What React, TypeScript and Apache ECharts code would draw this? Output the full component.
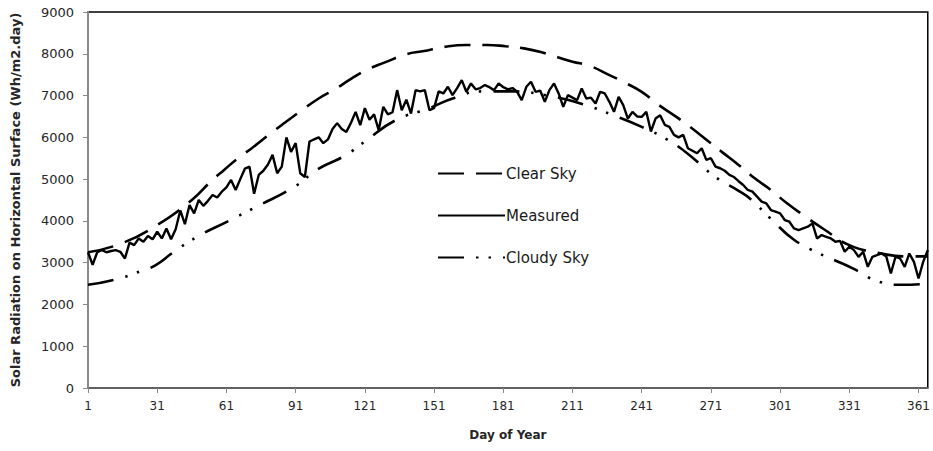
import React, { useEffect, useRef } from "react";
import * as echarts from "echarts";

// Tick labels of the x axis are generated from min=1, interval=30 (1, 31, ... 361)
const xTickLabels = ["1", "31", "61", "91", "121", "151", "181", "211", "241", "271", "301", "331", "361"];
const yTickLabels = ["0", "1000", "2000", "3000", "4000", "5000", "6000", "7000", "8000", "9000"];

const seriesNames = ["Clear Sky", "Measured", "Cloudy Sky"];

// Clear sky (read at selected days)
const clearDays = [1, 15, 31, 46, 54, 60, 66, 72, 81, 87, 95, 101, 108, 115, 122, 130, 139, 146, 156, 165, 174, 182, 190, 198, 211, 218, 227, 234, 241, 248, 256, 262, 270, 276, 283, 290, 297, 304, 311, 320, 331, 345, 355, 365];
const clearValues = [3250, 3450, 3900, 4500, 4930, 5220, 5500, 5740, 6130, 6380, 6700, 6930, 7150, 7400, 7620, 7800, 7990, 8060, 8170, 8210, 8210, 8180, 8130, 8030, 7810, 7720, 7490, 7300, 7090, 6790, 6490, 6250, 5900, 5640, 5340, 5020, 4740, 4420, 4140, 3800, 3420, 3220, 3150, 3150];

// Cloudy sky (read at selected days)
const cloudyDays = [1, 13, 24, 30, 38, 48, 62, 74, 90, 101, 112, 121, 134, 149, 160, 172, 185, 200, 215, 230, 241, 251, 260, 273, 283, 288, 297, 307, 318, 328, 334, 343, 354, 365];
const cloudyValues = [2470, 2600, 2800, 2930, 3250, 3610, 4000, 4340, 4800, 5250, 5550, 5900, 6400, 6700, 6950, 7100, 7100, 7000, 6800, 6500, 6250, 5980, 5650, 5050, 4720, 4530, 4050, 3550, 3220, 2980, 2820, 2560, 2470, 2500];

// Measured, read every second day (days 1, 3, 5, ... 365)
const measuredValues = [
  3250, 2950, 3250, 3300, 3250, 3280, 3300, 3260, 3100, 3480,
  3420, 3580, 3500, 3640, 3560, 3740, 3580, 3820, 3560, 3800,
  4250, 3920, 4380, 4180, 4500, 4360, 4480, 4620, 4560, 4700,
  4800, 4980, 4740, 5000, 5250, 5300, 4650, 5100, 5200, 5350,
  5580, 5140, 5300, 6000, 5650, 5860, 5140, 5050, 5900, 5950,
  6000, 5860, 5950, 6200, 6340, 6200, 6130, 6350, 6610, 6290,
  6700, 6420, 6550, 6170, 6730, 6550, 6600, 7130, 6650, 6900,
  6570, 7130, 7100, 7130, 6650, 6700, 7100, 7050, 7210, 7010,
  7180, 7370, 7090, 7290, 7150, 7180, 7250, 7200, 7130, 7290,
  7200, 7150, 7180, 7090, 6890, 7210, 7330, 7090, 7120, 6850,
  7130, 7290, 7050, 6730, 7010, 6950, 6890, 7170, 6930, 6950,
  6810, 7090, 7050, 6850, 6610, 6970, 6770, 6450, 6610, 6500,
  6490, 6610, 6140, 6450, 6530, 6300, 6250, 6060, 6000, 6060,
  5740, 5680, 5620, 5740, 5460, 5500, 5300, 5260, 5200, 5100,
  5050, 4950, 4860, 4740, 4700, 4580, 4460, 4420, 4260, 4220,
  4180, 4020, 3980, 3820, 3780, 3820, 3860, 3940, 3580, 3660,
  3620, 3580, 3500, 3520, 3260, 3380, 3300, 3140, 3260, 2900,
  3140, 3180, 3220, 3150, 2740, 3140, 3100, 2900, 3220, 3020,
  2620, 3020, 3300,
];

const FONT = "'DejaVu Sans', 'Liberation Sans', sans-serif";

export default function App() {
  const ref = useRef<HTMLDivElement>(null);
  useEffect(() => {
    document.body.style.margin = "0";
    if (!ref.current) return;
    const chart = echarts.init(ref.current, undefined, { renderer: "svg" });
    const clearData = clearDays.map((d, i) => [d, clearValues[i]]);
    const cloudyData = cloudyDays.map((d, i) => [d, cloudyValues[i]]);
    const measuredData = measuredValues.map((v, i) => [1 + 2 * i, v]);
    chart.setOption({
      animation: false,
      backgroundColor: "#ffffff",
      grid: {
        left: 88,
        right: 3,
        top: 12,
        bottom: 63,
        show: true,
        borderColor: "#000000",
        borderWidth: 1.5,
      },
      legend: {
        orient: "vertical",
        left: 432,
        top: 161,
        itemWidth: 67,
        itemHeight: 16,
        itemGap: 27,
        data: seriesNames,
        itemStyle: { opacity: 0 },
        textStyle: { fontFamily: FONT, fontSize: 15, color: "#1a1a1a", padding: [0, 0, 0, -4] },
      },
      xAxis: {
        type: "value",
        min: 1,
        max: 365,
        interval: 30,
        axisLine: { show: true, lineStyle: { color: "#6e6e6e", width: 1.5 } },
        axisTick: { show: true, length: 5, lineStyle: { color: "#8a8a8a" } },
        splitLine: { show: false },
        axisLabel: {
          showMaxLabel: false,
          margin: 12,
          fontFamily: FONT,
          fontSize: 12,
          color: "#262626",
          formatter: (v: number) => {
            const s = String(v);
            return xTickLabels.indexOf(s) >= 0 ? s : "";
          },
        },
        name: "Day of Year",
        nameLocation: "middle",
        nameGap: 41,
        nameTextStyle: { fontFamily: FONT, fontSize: 12, fontWeight: "bold", color: "#262626" },
      },
      yAxis: {
        type: "value",
        min: 0,
        max: 9000,
        interval: 1000,
        axisLine: { show: true, lineStyle: { color: "#8a8a8a", width: 2 } },
        axisTick: { show: true, length: 5, lineStyle: { color: "#8a8a8a" } },
        splitLine: { show: false },
        axisLabel: {
          margin: 14,
          fontFamily: FONT,
          fontSize: 13,
          color: "#262626",
          formatter: (v: number) => {
            const s = String(v);
            return yTickLabels.indexOf(s) >= 0 ? s : "";
          },
        },
        name: "Solar Radiation on Horizontal Surface (Wh/m2.day)",
        nameLocation: "middle",
        nameRotate: 90,
        nameGap: 66,
        nameTextStyle: { fontFamily: FONT, fontSize: 13, fontWeight: "bold", color: "#262626" },
      },
      series: [
        {
          name: seriesNames[0],
          type: "line",
          data: clearData,
          smooth: true,
          showSymbol: false,
          symbol: "none",
          lineStyle: { color: "#000", width: 2.6, type: [26, 12] },
          itemStyle: { color: "#000" },
          z: 2,
        },
        {
          name: seriesNames[1],
          type: "line",
          data: measuredData,
          showSymbol: false,
          symbol: "none",
          lineStyle: { color: "#000", width: 2.4 },
          itemStyle: { color: "#000" },
          z: 3,
        },
        {
          name: seriesNames[2],
          type: "line",
          data: cloudyData,
          smooth: true,
          showSymbol: false,
          symbol: "none",
          lineStyle: { color: "#000", width: 2.6, type: [26, 12, 2.5, 10, 2.5, 12] },
          itemStyle: { color: "#000" },
          z: 2,
        },
      ],
    });
    return () => chart.dispose();
  }, []);
  return <div ref={ref} style={{ width: 933, height: 451 }} />;
}
